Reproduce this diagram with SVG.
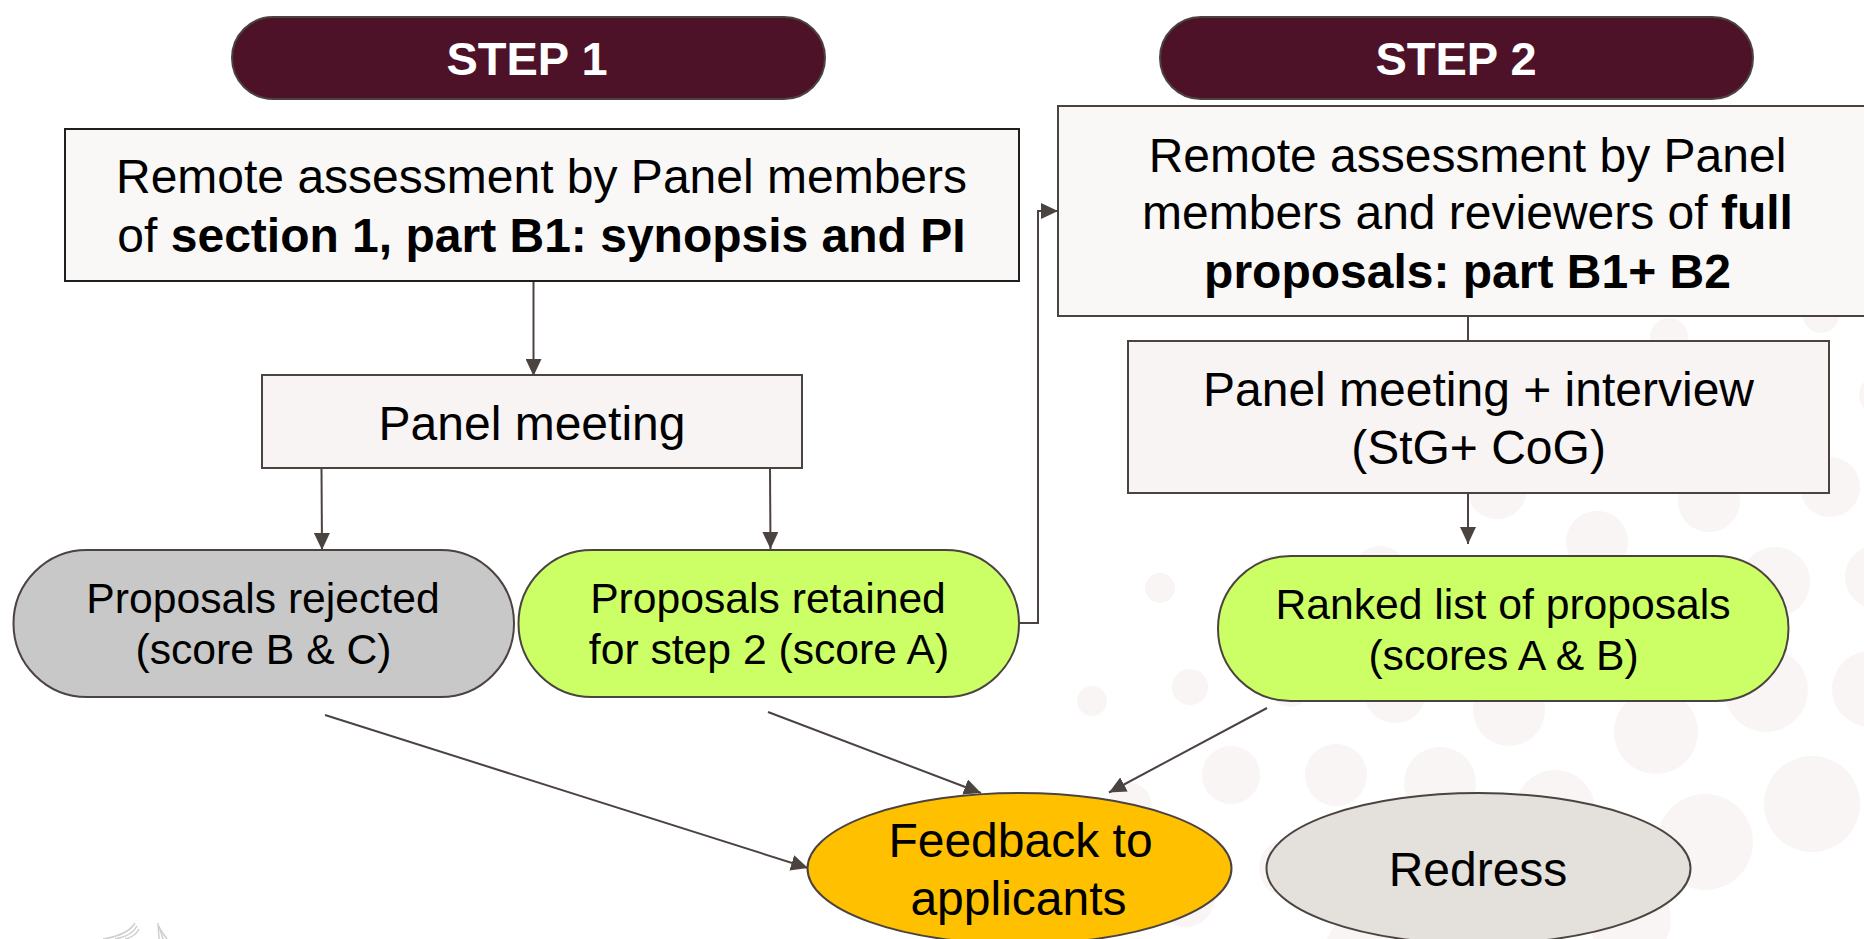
<svg xmlns="http://www.w3.org/2000/svg" width="1864" height="939" viewBox="0 0 1864 939">
<style>
text{font-family:"Liberation Sans",Arial,sans-serif;fill:#000;text-anchor:middle}
.b{font-weight:700}
.s{fill:#fff;font-weight:700;font-size:47px}
.l{font-size:48px}
.m{font-size:42.670px}
.shape{stroke:#4b4340;stroke-width:2}
.c{fill:none;stroke:#4b4340;stroke-width:2}
.dots circle{fill:#f8f5f4}
.logo path{fill:none;stroke:#cfcfcf;stroke-width:1.500}
</style>
<defs><marker id="a" markerUnits="userSpaceOnUse" markerWidth="18" markerHeight="16" refX="17" refY="8" orient="auto"><path d="M0 0L17 8L0 16Z" fill="#4b4340"/></marker></defs>
<rect width="1864" height="939" fill="#fff"/>
<g class="dots">
<circle cx="1160" cy="588" r="15"/><circle cx="1190" cy="687" r="18"/><circle cx="1092" cy="701" r="15"/><circle cx="1231" cy="775" r="29"/><circle cx="1336" cy="775" r="31"/><circle cx="1440" cy="783" r="36"/><circle cx="1555" cy="810" r="40"/><circle cx="1705" cy="842" r="48"/><circle cx="1812" cy="804" r="48"/><circle cx="1656" cy="732" r="42"/><circle cx="1766" cy="690" r="42"/><circle cx="1870" cy="689" r="38"/><circle cx="1509" cy="710" r="36"/><circle cx="1395" cy="692" r="31"/><circle cx="1597" cy="542" r="31"/><circle cx="1709" cy="501" r="31"/><circle cx="1830" cy="487" r="30"/><circle cx="1497" cy="489" r="30"/><circle cx="1775" cy="582" r="35"/><circle cx="1877" cy="577" r="32"/><circle cx="1669" cy="337" r="19"/><circle cx="1821" cy="315" r="18"/><circle cx="1879" cy="395" r="20"/><circle cx="1380" cy="574" r="28"/><circle cx="1275" cy="580" r="25"/><circle cx="1290" cy="688" r="19"/><circle cx="1288" cy="868" r="29"/><circle cx="1185" cy="897" r="30"/><circle cx="1130" cy="804" r="21"/><circle cx="1630" cy="920" r="41"/><circle cx="1358" cy="948" r="32"/>
</g>
<g class="logo">
<path d="M135 923Q128 935 103 939"/><path d="M137 926Q132 936 115 939"/><path d="M139 929Q135 937 125 939"/>
<path d="M158 923L159 939"/><path d="M159 926L163 939"/><path d="M160 929L167 939"/>
</g>
<g id="connectors">
<path class="c" marker-end="url(#a)" d="M533.500 282V376"/>
<path class="c" marker-end="url(#a)" d="M321.500 468L322 550"/>
<path class="c" marker-end="url(#a)" d="M770 468L770.500 549"/>
<path class="c" marker-end="url(#a)" d="M1019 623H1038V211H1058"/>
<path class="c" d="M1468 316V341"/>
<path class="c" marker-end="url(#a)" d="M1468 493V544"/>
<path class="c" marker-end="url(#a)" d="M325 715L808 868"/>
<path class="c" marker-end="url(#a)" d="M768 712L981 793"/>
<path class="c" marker-end="url(#a)" d="M1267 708L1109 792.500"/>
</g>
<g id="step1"><rect class="shape" x="232" y="17" width="593" height="82" rx="41" fill="#4e1228"/><text class="s" x="527" y="75">STEP 1</text></g>
<g id="step2"><rect class="shape" x="1160" y="17" width="593" height="82" rx="41" fill="#4e1228"/><text class="s" x="1456" y="75">STEP 2</text></g>
<g id="remote1"><rect x="65" y="129" width="954" height="152" fill="#f9f8f7" stroke="#1f1f1f" stroke-width="2"/><text class="l" x="541.500" y="193">Remote assessment by Panel members</text><text class="l" x="541.500" y="252">of <tspan class="b">section 1, part B1: synopsis and PI</tspan></text></g>
<g id="remote2"><rect class="shape" x="1058" y="106" width="820" height="210" fill="#f9f8f7"/><text class="l" x="1467.500" y="172">Remote assessment by Panel</text><text class="l" x="1467.500" y="229">members and reviewers of <tspan class="b">full</tspan></text><text class="l b" x="1467.500" y="288">proposals: part B1+ B2</text></g>
<g id="panel1"><rect class="shape" x="262" y="375" width="540" height="93" fill="#f7f4f3"/><text class="l" x="532" y="440">Panel meeting</text></g>
<g id="panel2"><rect class="shape" x="1128" y="341" width="701" height="152" fill="#f7f4f3"/><text class="l" x="1478.500" y="406">Panel meeting + interview</text><text class="l" x="1478.500" y="464">(StG+ CoG)</text></g>
<g id="rejected"><rect class="shape" x="13.500" y="550" width="500.500" height="147" rx="73.500" fill="#c8c8c8"/><text class="m" x="263" y="613">Proposals rejected</text><text class="m" x="263.500" y="664">(score B &amp; C)</text></g>
<g id="retained"><rect class="shape" x="518.500" y="550" width="500.500" height="147" rx="73.500" fill="#ccff66"/><text class="m" x="768" y="613">Proposals retained</text><text class="m" x="769" y="664">for step 2 (score A)</text></g>
<g id="ranked"><rect class="shape" x="1218" y="556" width="570.500" height="145" rx="72.500" fill="#ccff66"/><text class="m" x="1503" y="619">Ranked list of proposals</text><text class="m" x="1503.500" y="670">(scores A &amp; B)</text></g>
<g id="feedback"><ellipse class="shape" cx="1019.500" cy="868.500" rx="212" ry="75.500" fill="#ffc000"/><text class="l" x="1020.500" y="857">Feedback to</text><text class="l" x="1018.500" y="915">applicants</text></g>
<g id="redress"><ellipse class="shape" cx="1478.500" cy="868.500" rx="212" ry="75.500" fill="#e4e0dc"/><text class="l" x="1478" y="886">Redress</text></g>
</svg>
